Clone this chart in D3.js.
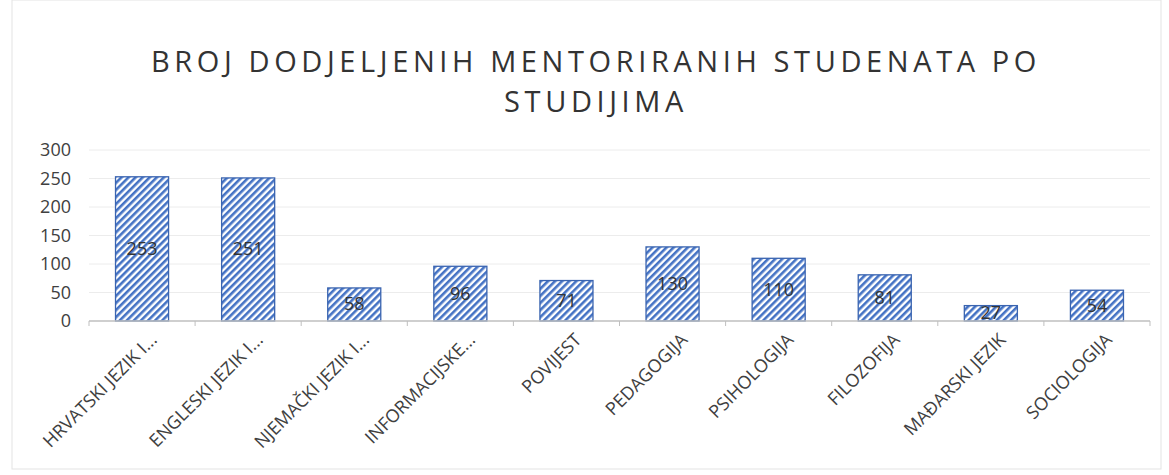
<!DOCTYPE html>
<html>
<head>
<meta charset="utf-8">
<script src="https://cdn.jsdelivr.net/npm/d3@7"></script>
<style>
  body { margin: 0; background: #fff; }
  text { font-family: "Open Sans", "Liberation Sans", sans-serif; }
</style>
</head>
<body>
<div id="chart"></div>
<script>
// Data
const categories = ["HRVATSKI JEZIK I...", "ENGLESKI JEZIK I...", "NJEMAČKI JEZIK I...", "INFORMACIJSKE...",
    "POVIJEST", "PEDAGOGIJA", "PSIHOLOGIJA", "FILOZOFIJA", "MAĐARSKI JEZIK", "SOCIOLOGIJA"];
const values = [253, 251, 58, 96, 71, 130, 110, 81, 27, 54];
const yTicks = [0, 50, 100, 150, 200, 250, 300];
const titleLines = ["BROJ DODJELJENIH MENTORIRANIH STUDENATA PO", "STUDIJIMA"];

const width = 1169, height = 475;
const margin = {left: 89, right: 19, top: 150, bottom: 154};

const svg = d3.select("#chart").append("svg")
    .attr("width", width)
    .attr("height", height);

// diagonal stripe pattern
const defs = svg.append("defs");
const pat = defs.append("pattern")
    .attr("id", "stripes")
    .attr("patternUnits", "userSpaceOnUse")
    .attr("width", 5).attr("height", 5)
    .attr("patternTransform", "rotate(45)");
pat.append("rect").attr("width", 5).attr("height", 5).attr("fill", "#fff");
pat.append("rect").attr("width", 2.6).attr("height", 5).attr("fill", "#4472c4");

// frame
svg.append("rect")
    .attr("x", 12).attr("y", 0).attr("width", width - 20).attr("height", height - 6)
    .attr("fill", "none").attr("stroke", "#e3e3e3");

// title
svg.append("g").selectAll("text")
    .data(titleLines)
    .enter().append("text")
    .attr("x", 596)
    .attr("y", (d, i) => 72 + i * 40)
    .attr("text-anchor", "middle")
    .attr("font-size", 29)
    .attr("letter-spacing", 4.6)
    .attr("fill", "#333")
    .text(d => d);

// scales
const x = d3.scaleBand()
    .domain(categories)
    .range([margin.left, width - margin.right])
    .paddingInner(0.5)
    .paddingOuter(0.25);

const y = d3.scaleLinear()
    .domain([0, 300])
    .range([height - margin.bottom, margin.top]);

// gridlines
svg.append("g").selectAll("line")
    .data(yTicks.slice(1))
    .enter().append("line")
    .attr("x1", margin.left).attr("x2", width - margin.right)
    .attr("y1", d => y(d)).attr("y2", d => y(d))
    .attr("stroke", "#ececec");

// y labels
svg.append("g").selectAll("text")
    .data(yTicks)
    .enter().append("text")
    .attr("x", 71)
    .attr("y", d => y(d) + 6)
    .attr("text-anchor", "end")
    .attr("font-size", 18)
    .attr("fill", "#404040")
    .text(d => d);

// bars
svg.append("g").selectAll("rect")
    .data(values)
    .enter().append("rect")
    .attr("x", (d, i) => x(categories[i]))
    .attr("y", d => y(d))
    .attr("width", x.bandwidth())
    .attr("height", d => y(0) - y(d))
    .attr("fill", "url(#stripes)")
    .attr("stroke", "#3a64b0")
    .attr("stroke-width", 1.3);

// x axis
const axisY = y(0);
const n = categories.length;
svg.append("line")
    .attr("x1", margin.left).attr("x2", width - margin.right)
    .attr("y1", axisY).attr("y2", axisY)
    .attr("stroke", "#bfbfbf").attr("stroke-width", 1.3);
svg.append("g").selectAll("line")
    .data(d3.range(n + 1))
    .enter().append("line")
    .attr("x1", i => margin.left + (width - margin.left - margin.right) / n * i)
    .attr("x2", i => margin.left + (width - margin.left - margin.right) / n * i)
    .attr("y1", axisY).attr("y2", axisY + 5)
    .attr("stroke", "#bfbfbf");

// data labels
svg.append("g").selectAll("text")
    .data(values)
    .enter().append("text")
    .attr("x", (d, i) => x(categories[i]) + x.bandwidth() / 2)
    .attr("y", d => (y(d) + y(0)) / 2 + 6)
    .attr("text-anchor", "middle")
    .attr("font-size", 18)
    .attr("fill", "#333")
    .text(d => d);

// category labels
svg.append("g").selectAll("text")
    .data(categories)
    .enter().append("text")
    .attr("transform", d => `translate(${x(d) + x.bandwidth() / 2 + 16},${axisY + 20}) rotate(-45)`)
    .attr("text-anchor", "end")
    .attr("font-size", 18)
    .attr("fill", "#404040")
    .text(d => d);
</script>
</body>
</html>
